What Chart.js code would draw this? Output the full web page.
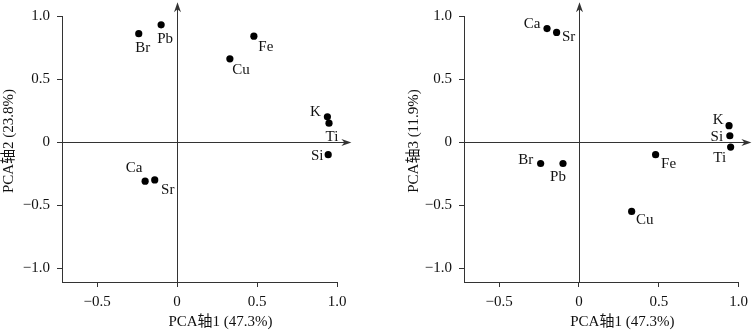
<!DOCTYPE html>
<html>
<head>
<meta charset="utf-8">
<script src="https://cdn.jsdelivr.net/npm/chart.js@4"></script>
<style>
  html, body { margin: 0; padding: 0; background: #fff; }
  .wrap { display: flex; width: 754px; height: 332px; }
  .cell { position: relative; width: 377px; height: 332px; }
</style>
</head>
<body>
<div class="wrap">
  <div class="cell"><canvas id="chart1"></canvas></div>
  <div class="cell"><canvas id="chart2"></canvas></div>
</div>
<script>
// element loadings
const elements = ["Br", "Pb", "Fe", "Cu", "K", "Ti", "Si", "Ca", "Sr"];
const pcaAxis1 = [-0.24, -0.10, 0.48, 0.33, 0.94, 0.95, 0.945, -0.20, -0.14];
const pcaAxis2 = [0.86, 0.93, 0.84, 0.66, 0.20, 0.15, -0.10, -0.31, -0.30];
const pcaAxis3 = [-0.17, -0.17, -0.10, -0.55, 0.13, -0.04, 0.05, 0.90, 0.87];

const xTicks = [-0.5, 0, 0.5, 1.0];
const yTicks = [-1.0, -0.5, 0, 0.5, 1.0];

const xTitle = "PCA轴1 (47.3%)";
const yTitleLeft = "PCA轴2 (23.8%)";
const yTitleRight = "PCA轴3 (11.9%)";

// where each label sits relative to its dot (px)
const labelOffsetsLeft = {
  Br: [4, 13], Pb: [4, 13], Fe: [12, 10], Cu: [11, 10], K: [-12, -6],
  Ti: [3, 13], Si: [-11, 0], Ca: [-11, -14], Sr: [13, 9],
};
const labelOffsetsRight = {
  Ca: [-15, -6], Sr: [12, 4], K: [-11, -7], Si: [-13, 0], Ti: [-11, 10],
  Br: [-15, -4], Pb: [-5, 13], Fe: [13, 8], Cu: [13, 8],
};

const fontFamily = "'Liberation Serif', 'Noto Sans CJK SC', serif";
const inkColor = "#111";
const axisColor = "#333";

const fmtTick = (v) => (v === 0 ? "0" : v.toFixed(1).replace("-", "\u2212"));

const axesArrows = {
  id: "axesArrows",
  beforeDatasetsDraw(chart, args, opts) {
    const { ctx, chartArea } = chart;
    const { x, y } = chart.scales;
    const x0 = Math.round(x.getPixelForValue(0)) + 0.5;
    const y0 = Math.round(y.getPixelForValue(0)) + 0.5;
    const xTip = x.getPixelForValue(opts.xArrow);
    const yTip = y.getPixelForValue(opts.yArrow);
    ctx.save();
    ctx.strokeStyle = axisColor;
    ctx.fillStyle = axisColor;
    ctx.lineWidth = 1;
    ctx.beginPath();
    ctx.moveTo(x0, chartArea.bottom);
    ctx.lineTo(x0, yTip + 6);
    ctx.moveTo(chartArea.left, y0);
    ctx.lineTo(xTip - 6, y0);
    ctx.stroke();
    // arrow heads
    ctx.beginPath();
    ctx.moveTo(x0, yTip);
    ctx.lineTo(x0 - 3.5, yTip + 10);
    ctx.lineTo(x0, yTip + 7);
    ctx.lineTo(x0 + 3.5, yTip + 10);
    ctx.closePath();
    ctx.fill();
    ctx.beginPath();
    ctx.moveTo(xTip, y0);
    ctx.lineTo(xTip - 10, y0 - 3.5);
    ctx.lineTo(xTip - 7, y0);
    ctx.lineTo(xTip - 10, y0 + 3.5);
    ctx.closePath();
    ctx.fill();
    ctx.restore();
  },
};

const pointLabels = {
  id: "pointLabels",
  afterDatasetsDraw(chart, args, opts) {
    const { ctx } = chart;
    const meta = chart.getDatasetMeta(0);
    ctx.save();
    ctx.font = `15px ${fontFamily}`;
    ctx.fillStyle = inkColor;
    ctx.textAlign = "center";
    ctx.textBaseline = "middle";
    meta.data.forEach((pt, i) => {
      const name = elements[i];
      const [dx, dy] = opts.offsets[name];
      ctx.fillText(name, pt.x + dx, pt.y + dy + 1);
    });
    ctx.restore();
  },
};

const axisTitles = {
  id: "axisTitles",
  afterDraw(chart, args, opts) {
    const { ctx, chartArea } = chart;
    ctx.save();
    ctx.font = `15px ${fontFamily}`;
    ctx.fillStyle = inkColor;
    ctx.textAlign = "center";
    ctx.textBaseline = "middle";
    ctx.fillText(opts.x, (chartArea.left + chartArea.right) / 2 + 21, 322);
    ctx.translate(opts.yTitleX, 141);
    ctx.rotate(-Math.PI / 2);
    ctx.fillText(opts.y, 0, 0);
    ctx.restore();
  },
};

const makeChart = (canvasId, yValues, offsets, yTitle, layout) => {
  const points = elements.map((name, i) => ({ x: pcaAxis1[i], y: yValues[i] }));
  return new Chart(document.getElementById(canvasId), {
    type: "scatter",
    data: {
      datasets: [
        {
          data: points,
          backgroundColor: "#000",
          borderWidth: 0,
          pointRadius: 3.6,
          pointHoverRadius: 3.6,
        },
      ],
    },
    options: {
      responsive: false,
      animation: false,
      devicePixelRatio: 1,
      layout: {
        padding: { left: 0, right: layout.right, top: 15, bottom: 0 },
      },
      plugins: {
        legend: { display: false },
        tooltip: { enabled: false },
        axesArrows: { xArrow: layout.xArrow, yArrow: 1.11 },
        pointLabels: { offsets },
        axisTitles: { x: xTitle, y: yTitle, yTitleX: layout.yTitleX },
      },
      scales: {
        x: {
          type: "linear",
          min: -0.72,
          max: 1.0,
          afterBuildTicks: (scale) => {
            scale.ticks = xTicks.map((v) => ({ value: v }));
          },
          afterFit: (scale) => {
            scale.height = 50;
          },
          grid: {
            drawOnChartArea: false,
            drawTicks: true,
            tickLength: 5,
            color: axisColor,
          },
          border: { display: true, color: axisColor, width: 1 },
          ticks: {
            padding: 6,
            color: inkColor,
            font: { family: fontFamily, size: 15 },
            callback: fmtTick,
            maxRotation: 0,
          },
        },
        y: {
          type: "linear",
          min: -1.11,
          max: 1.0,
          afterBuildTicks: (scale) => {
            scale.ticks = yTicks.map((v) => ({ value: v }));
          },
          afterFit: (scale) => {
            scale.width = layout.left;
          },
          grid: {
            drawOnChartArea: false,
            drawTicks: true,
            tickLength: 5,
            color: axisColor,
          },
          border: { display: true, color: axisColor, width: 1 },
          ticks: {
            padding: 7,
            color: inkColor,
            font: { family: fontFamily, size: 15 },
            callback: fmtTick,
          },
        },
      },
    },
    plugins: [axesArrows, pointLabels, axisTitles],
  });
};

document.getElementById("chart1").width = 377;
document.getElementById("chart1").height = 332;
document.getElementById("chart2").width = 377;
document.getElementById("chart2").height = 332;

makeChart("chart1", pcaAxis2, labelOffsetsLeft, yTitleLeft, {
  left: 62, right: 40, xArrow: 1.09, yTitleX: 9,
});
makeChart("chart2", pcaAxis3, labelOffsetsRight, yTitleRight, {
  left: 87, right: 14, xArrow: 1.08, yTitleX: 37,
});
</script>
</body>
</html>
